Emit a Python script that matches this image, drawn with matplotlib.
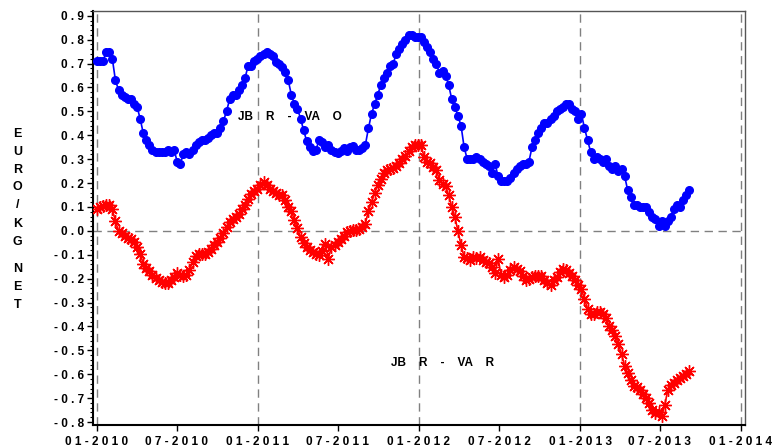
import numpy as np
import pandas as pd
import matplotlib
matplotlib.use('Agg')
import matplotlib.pyplot as plt
import matplotlib.dates as mdates
from matplotlib.ticker import FuncFormatter, MultipleLocator

plt.rcParams['font.family'] = ['Liberation Sans', 'DejaVu Sans']
plt.rcParams['font.weight'] = 'bold'

# weekly observations, first week 01-2010
dates = pd.date_range('2010-01-01', periods=193, freq='7D')

jbr_vao = [
    0.71, 0.71, 0.71, 0.75, 0.75, 0.72, 0.63, 0.59, 0.57, 0.56,
    0.55, 0.55, 0.53, 0.52, 0.47, 0.41, 0.38, 0.36, 0.34, 0.33,
    0.33, 0.33, 0.33, 0.34, 0.33, 0.34, 0.29, 0.28, 0.32, 0.33,
    0.32, 0.34, 0.36, 0.37, 0.38, 0.38, 0.39, 0.40, 0.41, 0.41,
    0.43, 0.46, 0.50, 0.55, 0.57, 0.57, 0.59, 0.61, 0.64, 0.69,
    0.69, 0.71, 0.72, 0.73, 0.74, 0.75, 0.74, 0.73, 0.705, 0.70,
    0.685, 0.665, 0.63, 0.57, 0.53, 0.51, 0.47, 0.42, 0.375, 0.35,
    0.335, 0.34, 0.38, 0.37, 0.35, 0.36, 0.34, 0.33, 0.325, 0.335,
    0.345, 0.335, 0.35, 0.355, 0.34, 0.34, 0.345, 0.36, 0.43, 0.49,
    0.53, 0.57, 0.61, 0.64, 0.66, 0.69, 0.70, 0.74, 0.76, 0.78,
    0.80, 0.82, 0.82, 0.81, 0.81, 0.81, 0.79, 0.77, 0.75, 0.72,
    0.70, 0.66, 0.67, 0.65, 0.61, 0.55, 0.52, 0.48, 0.44, 0.35,
    0.30, 0.30, 0.30, 0.31, 0.30, 0.29, 0.28, 0.27, 0.24, 0.28,
    0.23, 0.21, 0.21, 0.21, 0.22, 0.24, 0.26, 0.27, 0.28, 0.28,
    0.29, 0.35, 0.38, 0.41, 0.43, 0.45, 0.45, 0.47, 0.48, 0.50,
    0.51, 0.52, 0.53, 0.53, 0.51, 0.50, 0.47, 0.49, 0.43, 0.38,
    0.33, 0.30, 0.31, 0.30, 0.29, 0.30, 0.27, 0.26, 0.27, 0.25,
    0.26, 0.23, 0.17, 0.14, 0.11, 0.11, 0.10, 0.10, 0.10, 0.08,
    0.06, 0.05, 0.02, 0.04, 0.02, 0.04, 0.06, 0.09, 0.11, 0.10,
    0.13, 0.15, 0.17,
]

jbr_var = [
    0.09, 0.10, 0.105, 0.11, 0.11, 0.09, 0.04, 0.00, -0.01, -0.02,
    -0.03, -0.035, -0.047, -0.068, -0.095, -0.137, -0.154, -0.17, -0.185, -0.197,
    -0.205, -0.213, -0.218, -0.22, -0.207, -0.195, -0.178, -0.185, -0.19, -0.185,
    -0.165, -0.13, -0.105, -0.097, -0.095, -0.095, -0.09, -0.075, -0.06, -0.045,
    -0.028, -0.01, 0.018, 0.036, 0.05, 0.058, 0.07, 0.09, 0.11, 0.135,
    0.155, 0.166, 0.175, 0.19, 0.205, 0.19, 0.175, 0.165, 0.157, 0.152,
    0.15, 0.13, 0.10, 0.085, 0.045, 0.01, -0.025, -0.05, -0.068, -0.08,
    -0.09, -0.098, -0.102, -0.085, -0.054, -0.116, -0.066, -0.06, -0.045, -0.033,
    -0.023, -0.005, 0.0, 0.002, 0.005, 0.008, 0.015, 0.03, 0.085, 0.12,
    0.16, 0.19, 0.215, 0.24, 0.255, 0.26, 0.265, 0.27, 0.285, 0.30,
    0.315, 0.333, 0.35, 0.36, 0.36, 0.36, 0.31, 0.29, 0.285, 0.267,
    0.253, 0.214, 0.197, 0.186, 0.148, 0.10, 0.058, 0.00, -0.06, -0.11,
    -0.115, -0.12, -0.11, -0.115, -0.11, -0.12, -0.13, -0.135, -0.15, -0.175,
    -0.116, -0.186, -0.193, -0.186, -0.165, -0.151, -0.158, -0.17, -0.19, -0.204,
    -0.20, -0.195, -0.19, -0.188, -0.19, -0.205, -0.22, -0.228, -0.207, -0.193,
    -0.172, -0.158, -0.162, -0.175, -0.19, -0.205, -0.225, -0.245, -0.285, -0.325,
    -0.346, -0.346, -0.339, -0.339, -0.346, -0.365, -0.40, -0.413, -0.44, -0.475,
    -0.515, -0.565, -0.595, -0.625, -0.65, -0.655, -0.666, -0.683, -0.70, -0.72,
    -0.75, -0.764, -0.76, -0.775, -0.73, -0.666, -0.645, -0.636, -0.625, -0.615,
    -0.607, -0.597, -0.588,
]

years = pd.to_datetime(['2010-01-01', '2011-01-01', '2012-01-01', '2013-01-01', '2014-01-01'])
ylab = ['E', 'U', 'R', 'O', '/', 'K', 'G', 'N', 'E', 'T']

W, H = 772, 448
fig = plt.figure(figsize=(W / 100, H / 100), dpi=100)
ax = fig.add_axes([92.5 / W, 1 - 425 / H, 652 / W, 414 / H])

for d in years:
    ax.axvline(d, color='#808080', lw=1, ls=(0, (6, 4)), zorder=1)
ax.axhline(0, color='#808080', lw=1, ls=(0, (6, 4)), zorder=1)

ax.plot(dates, jbr_vao, color='#0000ff', lw=1.2, marker='o', ms=5.5, mec='#0000ff', zorder=3)
ax.plot(dates, jbr_var, color='#ff0000', lw=1.2, marker=(8, 2, 0), ms=9, mew=1.0, zorder=3)

ax.text(pd.Timestamp('2011-03-15'), 0.478, 'JB    R    -    VA    O', ha='center', va='center',
        fontsize=8.5, fontweight='bold')
ax.text(pd.Timestamp('2012-02-24'), -0.555, 'JB    R    -    VA    R', ha='center', va='center',
        fontsize=8.5, fontweight='bold')

ax.set_xlim(pd.Timestamp('2009-12-22'), pd.Timestamp('2014-01-09'))
ax.set_ylim(-0.8125, 0.92)
ax.xaxis.set_major_locator(mdates.MonthLocator(bymonth=[1, 7]))
ax.xaxis.set_major_formatter(FuncFormatter(lambda v, p: ' '.join(mdates.num2date(v).strftime('%m-%Y'))))
ax.yaxis.set_major_locator(MultipleLocator(0.1))
ax.yaxis.set_minor_locator(MultipleLocator(0.02))
ax.yaxis.set_major_formatter(FuncFormatter(lambda v, p: ' '.join(f'{v:.1f}' if abs(v) > 1e-9 else '0.0')))

ax.tick_params(axis='both', which='major', direction='out', length=4, width=1, labelsize=8.5, colors='black')
ax.tick_params(axis='y', which='minor', direction='out', length=2, width=0.8)
ax.tick_params(axis='y', pad=2)
ax.tick_params(axis='x', pad=4)
for lab in ax.get_xticklabels() + ax.get_yticklabels():
    lab.set_fontweight('bold')

for s in ['left', 'bottom']:
    ax.spines[s].set_linewidth(1.5)
    ax.spines[s].set_color('black')
for s in ['top', 'right']:
    ax.spines[s].set_linewidth(1)
    ax.spines[s].set_color('#555555')

ys = [134, 152, 170, 187, 205, 224, 242, 269, 287, 305]
for ch, yy in zip(ylab, ys):
    fig.text(17.5 / W, 1 - yy / H, ch, ha='center', va='center', fontsize=9, fontweight='bold')

fig.savefig('out.png', dpi=100)
